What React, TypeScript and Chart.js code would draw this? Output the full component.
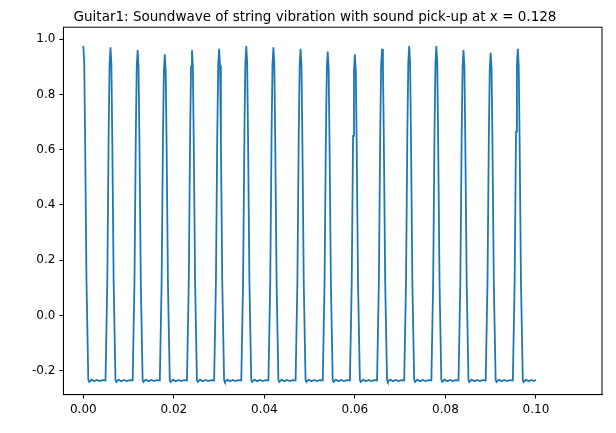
import React, { useEffect, useRef } from "react";
import Chart from "chart.js/auto";

// peak times (s) and heights
const peakTimes = [0, 0.006, 0.012, 0.018, 0.024, 0.03, 0.036, 0.042, 0.048, 0.054, 0.06, 0.066, 0.072, 0.078, 0.084, 0.09, 0.096];
const peakHeights = [0.975, 0.97, 0.96, 0.945, 0.96, 0.965, 0.975, 0.97, 0.965, 0.955, 0.945, 0.965, 0.975, 0.975, 0.96, 0.95, 0.965];
// pulse shape around each peak: time offset and fraction of height above baseline
const pulseOffsets = [-0.0011, -0.0007, -0.0004, -0.0002, 0, 0.0002, 0.0004, 0.0007, 0.0011, 0.0013];
const pulseFractions = [0, 0.3, 0.75, 0.95, 1, 0.95, 0.72, 0.3, 0.01, 0];
const pulseBase = [-0.235, -0.235, -0.235, -0.235, -0.235, -0.24, -0.24, -0.245, -0.245, -0.24];
// baseline wiggle between pulses
const gapOffsets = [0.0018, 0.0024, 0.003, 0.0036, 0.0042];
const gapValues = [-0.232, -0.238, -0.233, -0.237, -0.234];

const buildPoints = () => {
  const pts: { x: number; y: number }[] = [];
  peakTimes.forEach((t, i) => {
    pulseOffsets.forEach((o, j) => {
      const x = t + o;
      if (x < 0) return;
      pts.push({ x, y: pulseBase[j] + (peakHeights[i] - pulseBase[j]) * pulseFractions[j] });
    });
    gapOffsets.forEach((o, j) => {
      const x = t + o;
      if (x <= 0.1) pts.push({ x, y: gapValues[j] });
    });
  });
  pts.push({ x: 0.1, y: -0.232 });
  return pts;
};

const font = { family: "DejaVu Sans", size: 12 };

const frame = {
  id: "frame",
  afterDraw(chart: any) {
    const { ctx, chartArea: a } = chart;
    ctx.save();
    ctx.strokeStyle = "#000";
    ctx.lineWidth = 1;
    ctx.strokeRect(a.left, a.top, a.right - a.left, a.bottom - a.top);
    ctx.restore();
  },
};

export default function App() {
  const ref = useRef<HTMLCanvasElement>(null);
  useEffect(() => {
    document.body.style.margin = "0";
    if (!ref.current) return;
    const chart = new Chart(ref.current, {
      type: "scatter",
      data: {
        datasets: [{ data: buildPoints(), showLine: true, borderColor: "#1f77b4", borderWidth: 1.8, pointRadius: 0, tension: 0 }],
      },
      options: {
        responsive: false,
        animation: false,
        layout: { padding: { left: 28, right: 14, top: 0, bottom: 12 } },
        plugins: {
          legend: { display: false },
          tooltip: { enabled: false },
          title: {
            display: true,
            text: "Guitar1: Soundwave of string vibration with sound pick-up at x = 0.128",
            color: "#000",
            font: { family: "DejaVu Sans", size: 13.5, weight: "normal" },
            padding: { top: 9, bottom: 2 },
          },
        },
        scales: {
          x: {
            type: "linear",
            min: -0.0044,
            max: 0.1146,
            afterBuildTicks: (s: any) => {
              s.ticks = [0, 0.02, 0.04, 0.06, 0.08, 0.1].map((v) => ({ value: v }));
            },
            ticks: { color: "#000", font, maxRotation: 0, padding: 4, callback: (v: any) => Number(v).toFixed(2) },
            grid: { drawOnChartArea: false, tickLength: 4, color: "#000" },
            border: { color: "#000" },
          },
          y: {
            min: -0.286,
            max: 1.043,
            afterBuildTicks: (s: any) => {
              s.ticks = [-0.2, 0, 0.2, 0.4, 0.6, 0.8, 1.0].map((v) => ({ value: v }));
            },
            ticks: { color: "#000", font, padding: 4, callback: (v: any) => Number(v).toFixed(1) },
            grid: { drawOnChartArea: false, tickLength: 4, color: "#000" },
            border: { color: "#000" },
          },
        },
      },
      plugins: [frame],
    });
    return () => chart.destroy();
  }, []);
  return <canvas ref={ref} width={616} height={433} />;
}
